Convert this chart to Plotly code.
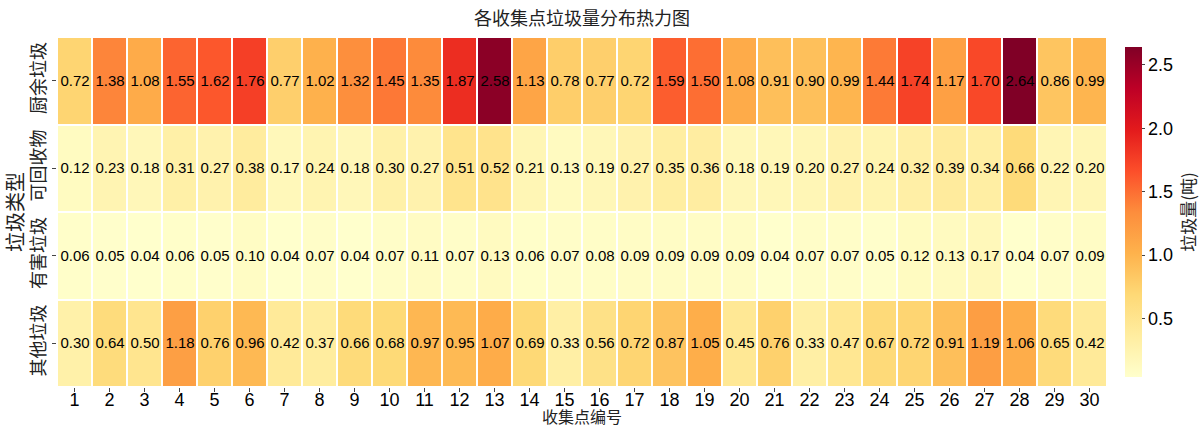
import plotly.graph_objects as go

# Collection points and waste categories
points = [str(i) for i in range(1, 31)]
categories = ["厨余垃圾", "可回收物", "有害垃圾", "其他垃圾"]

# Tonnage per category at each collection point
kitchen = [0.72, 1.38, 1.08, 1.55, 1.62, 1.76, 0.77, 1.02, 1.32, 1.45,
           1.35, 1.87, 2.58, 1.13, 0.78, 0.77, 0.72, 1.59, 1.50, 1.08,
           0.91, 0.90, 0.99, 1.44, 1.74, 1.17, 1.70, 2.64, 0.86, 0.99]
recyclable = [0.12, 0.23, 0.18, 0.31, 0.27, 0.38, 0.17, 0.24, 0.18, 0.30,
              0.27, 0.51, 0.52, 0.21, 0.13, 0.19, 0.27, 0.35, 0.36, 0.18,
              0.19, 0.20, 0.27, 0.24, 0.32, 0.39, 0.34, 0.66, 0.22, 0.20]
hazardous = [0.06, 0.05, 0.04, 0.06, 0.05, 0.10, 0.04, 0.07, 0.04, 0.07,
             0.11, 0.07, 0.13, 0.06, 0.07, 0.08, 0.09, 0.09, 0.09, 0.09,
             0.04, 0.07, 0.07, 0.05, 0.12, 0.13, 0.17, 0.04, 0.07, 0.09]
other = [0.30, 0.64, 0.50, 1.18, 0.76, 0.96, 0.42, 0.37, 0.66, 0.68,
         0.97, 0.95, 1.07, 0.69, 0.33, 0.56, 0.72, 0.87, 1.05, 0.45,
         0.76, 0.33, 0.47, 0.67, 0.72, 0.91, 1.19, 1.06, 0.65, 0.42]

cbar_ticks = [0.5, 1.0, 1.5, 2.0, 2.5]

z = [kitchen, recyclable, hazardous, other]
zmin = min(min(r) for r in z)
zmax = max(max(r) for r in z)

ylorrd = ["rgb(255,255,204)", "rgb(255,237,160)", "rgb(254,217,118)",
          "rgb(254,178,76)", "rgb(253,141,60)", "rgb(252,78,42)",
          "rgb(227,26,28)", "rgb(189,0,38)", "rgb(128,0,38)"]
colorscale = [[i / (len(ylorrd) - 1), c] for i, c in enumerate(ylorrd)]

CJK = "Noto Sans CJK SC"
LATIN = "Liberation Sans, Arial, sans-serif"

fig = go.Figure(go.Heatmap(
    z=z,
    x=points,
    y=categories,
    zmin=zmin,
    zmax=zmax,
    colorscale=colorscale,
    xgap=2,
    ygap=2,
    texttemplate="%{z:.2f}",
    textfont=dict(family=LATIN, size=15, color="black"),
    colorbar=dict(
        x=1.017, xanchor="left", xpad=0,
        y=0.5, yanchor="middle", len=1.0, lenmode="fraction",
        thickness=17, outlinewidth=0,
        tickvals=cbar_ticks, ticktext=[f"{v:.1f}" for v in cbar_ticks],
        ticks="outside", ticklen=3, tickcolor="#444",
        tickfont=dict(family=LATIN, size=18, color="black"),
        title=dict(text="垃圾量(吨)", side="right",
                   font=dict(family=CJK, size=17, color="#222")),
    ),
))

fig.update_layout(
    width=1200, height=425,
    margin=dict(l=57, r=93, t=37, b=38, autoexpand=False),
    paper_bgcolor="white",
    plot_bgcolor="white",
    title=dict(text="各收集点垃圾量分布热力图", x=0.485, xanchor="center",
               y=0.955, yanchor="middle",
               font=dict(family=CJK, size=18, color="#222")),
    annotations=[dict(
        text="收集点编号", xref="paper", yref="paper",
        x=0.5, y=-0.083, xanchor="center", yanchor="middle",
        showarrow=False, font=dict(family=CJK, size=16, color="#222"),
    )],
)

fig.update_xaxes(
    type="category", showgrid=False, zeroline=False, showline=False,
    automargin=False,
    ticks="outside", ticklen=4, tickcolor="#444",
    ticklabelstandoff=-8,
    tickfont=dict(family=LATIN, size=18, color="black"),
)
fig.update_yaxes(
    type="category", autorange="reversed", showgrid=False, zeroline=False,
    showline=False, automargin=False,
    ticks="outside", ticklen=4, tickcolor="#444",
    tickangle=-90,
    tickfont=dict(family=CJK, size=18, color="#222"),
    title=dict(text="垃圾类型", standoff=2,
               font=dict(family=CJK, size=20, color="#222")),
)

fig.write_html("out.html")
